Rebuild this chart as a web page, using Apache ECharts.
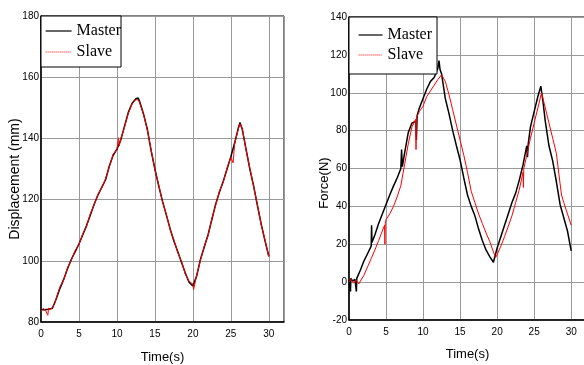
<!DOCTYPE html>
<html><head><meta charset="utf-8">
<script src="https://cdn.jsdelivr.net/npm/echarts@6/dist/echarts.min.js"></script>
<style>html,body{margin:0;padding:0;background:#fff}#c{width:584px;height:365px}</style>
</head><body><div id="c"></div>
<script>
// ---- Data ----
var seriesNames = ['Master', 'Slave'];
var xTickLabels = ['0', '5', '10', '15', '20', '25', '30'];
var dispTickLabels = ['80', '100', '120', '140', '160', '180'];
var forceTickLabels = ['-20', '0', '20', '40', '60', '80', '100', '120', '140'];

var dispMasterT = [0,0.5,1,1.5,2,2.5,3,3.5,4,4.5,5,5.5,6,6.5,7,7.5,8,8.5,9,9.5,10,10.5,11,11.5,12,12.5,12.8,13,13.5,14,14.5,15,15.5,16,16.5,17,17.5,18,18.5,19,19.5,20,20.5,21,21.5,22,22.5,23,23.5,24,24.5,25,25.5,26,26.2,26.5,27,27.5,28,28.5,29,29.5,30];
var dispMasterV = [84,84,84.2,84.5,87.5,91,94,97.5,100.5,103,105.5,108.5,111.5,115,118.5,121.5,124,126.5,131,134.5,136.5,139.5,144,148.5,151.5,153,153.2,152,148,143,136,130,124.5,119.5,115,110.5,106.5,103,99.5,96,93,91.8,95,100.5,104.5,108.5,113.5,118.5,122.5,126,130,134,138.5,143.5,145.2,143,136.5,130,124.5,118,112,106.5,101.5];

var dispSlaveT = [0,0.3,0.6,0.9,1.0,1.2,1.5,1.8,2,2.5,3,3.5,4,4.5,5,5.5,6,6.5,7,7.5,8,8.5,9,9.5,10,10.2,10.3,10.5,11,11.5,12,12.5,12.8,13,13.5,14,14.5,15,15.5,16,16.5,17,17.5,18,18.5,19,19.5,20,20.1,20.5,21,21.5,22,22.5,23,23.5,24,24.5,25,25.3,25.5,26,26.2,26.5,27,27.5,28,28.5,29,29.5,30];
var dispSlaveV = [83.5,84.5,83.8,82.2,84.6,83.9,84.8,86,87.8,91.5,93.8,97.8,100.2,103.4,105.3,108.8,111.3,115.4,118.3,121.8,123.8,126.8,130.7,134.8,136.3,140.2,137.5,139.8,143.7,148.2,151.3,152.7,152.6,151.6,147.8,142.8,136.3,129.7,124.8,119.2,115.3,110.2,106.8,102.7,99.8,95.7,93.3,92.4,90.6,95.4,100.2,104.8,108.2,113.8,118.2,122.8,125.7,130.3,133.7,132,138.2,143.2,144.8,143.3,136.2,130.3,124.2,118.3,111.7,106.8,101.3];

var forceMasterT = [0,0.2,0.25,0.5,0.8,1.0,1.05,1.5,2,2.5,3,3.05,3.1,3.5,4,4.5,5,5.5,6,6.5,7,7.1,7.2,7.5,8,8.5,9,9.1,9.2,9.5,10,10.5,11,11.5,12,12.15,12.3,12.5,13,13.5,14,14.5,15,15.5,16,16.5,17,17.5,18,18.5,19,19.5,20,20.5,21,21.5,22,22.5,23,23.5,24,24.1,24.2,24.5,25,25.5,25.9,26.2,26.5,27,27.5,28,28.5,29,29.5,30];
var forceMasterV = [1,-5,2,0.5,1.5,-5,2,6,11,15,19,30,21,25,31,36,41,46,50.7,55,60,70,61,68,79,84,85,75,88,92,97,102,106,108,113,117,112,110,97,89,80,72,64.5,55,46,40,35,28,22,17,13.5,10.5,18,24,30,36,42,47,54,62,72,66,73,82,90,98,103.5,95,85,72,64,53,41,34,27,16.5];

var forceSlaveT = [0,0.3,0.6,1,1.3,1.5,2,2.5,3,3.5,4,4.5,4.8,4.85,4.9,5,5.5,6,6.5,7,7.5,8,8.5,9,9.05,9.1,9.5,10,10.5,11,11.5,12,12.5,13,13.5,14,14.5,15,15.5,16,16.5,17,17.5,18,18.5,19,19.5,19.8,20,20.5,21,21.5,22,22.5,23,23.5,23.55,23.6,24,24.5,25,25.5,26,26.5,27,27.5,28,28.5,28.7,29,29.5,30];
var forceSlaveV = [0,1.5,-0.5,1,-1,0,3.5,8,12.5,17,22,27,30,20,31,33,36,40,45,51,62,73,82,86,70,87,90,93,98,101,104,107,109.5,106,99,91,83,75,67,58,48,42,36,31,26,21.5,16,13,14.5,19,24,29.5,35,42,49,58,50,60,67,76,84,92,100,92,84,76,68,52,46,42,36,30];

function zip(t, v) { return t.map(function (x, i) { return [x, v[i]]; }); }

var tickFont = { fontFamily: '"Liberation Sans Narrow", "Liberation Sans", Arial, sans-serif', fontSize: 10, color: '#000' };
var legendFont = { fontFamily: '"Liberation Serif", "Times New Roman", serif', fontSize: 16, color: '#000' };

function xAxisDef(gi, gap) {
  return {
    type: 'value', gridIndex: gi, min: 0, max: 32, interval: 5,
    name: 'Time(s)', nameLocation: 'middle', nameGap: gap,
    nameTextStyle: { fontFamily: '"Liberation Sans", Arial, sans-serif', fontSize: 13, color: '#000' },
    axisLine: { show: true, onZero: false, lineStyle: { color: '#000', width: 1.5 } },
    axisTick: { show: false },
    axisLabel: Object.assign({ margin: 7, formatter: function (v) { return xTickLabels.indexOf(String(v)) >= 0 ? String(v) : ''; } }, tickFont),
    splitLine: { show: true, lineStyle: { color: '#9a9a9a', width: 1 } }
  };
}
function yAxisDef(gi, min, max, labels) {
  return {
    type: 'value', gridIndex: gi, min: min, max: max, interval: 20,
    axisLine: { show: true, onZero: false, lineStyle: { color: '#000', width: 1.5 } },
    axisTick: { show: false },
    axisLabel: Object.assign({ margin: 2, formatter: function (v) { return labels.indexOf(String(v)) >= 0 ? String(v) : ''; } }, tickFont),
    splitLine: { show: true, lineStyle: { color: '#9a9a9a', width: 1 } }
  };
}

function legendDef(left, top, padding, gap, iw) {
  return {
    orient: 'vertical', left: left, top: top, padding: padding, itemGap: gap,
    itemWidth: iw, itemHeight: 14, backgroundColor: '#fff', borderColor: '#000', borderWidth: 1,
    textStyle: legendFont, selectedMode: false,
    itemStyle: { opacity: 0 },
    data: [
      { name: seriesNames[0], itemStyle: { opacity: 0 }, lineStyle: { type: 'solid', color: '#000', width: 1.2 } },
      { name: seriesNames[1], itemStyle: { opacity: 0 }, lineStyle: { type: 'dotted', color: '#ff0000', width: 1 } }
    ]
  };
}

var chart = echarts.init(document.getElementById('c'), null, { renderer: 'canvas' });
chart.setOption({
  backgroundColor: '#fff',
  animation: false,
  grid: [
    { left: 41, top: 16, width: 243, height: 306, show: true, borderColor: '#000', borderWidth: 1, backgroundColor: 'transparent', containLabel: false, outerBoundsMode: 'none' },
    { left: 349, top: 17, width: 237, height: 303, show: true, borderColor: '#000', borderWidth: 1, backgroundColor: 'transparent', containLabel: false, outerBoundsMode: 'none' }
  ],
  xAxis: [xAxisDef(0, 29), xAxisDef(1, 28)],
  yAxis: [yAxisDef(0, 80, 180, dispTickLabels), yAxisDef(1, -20, 140, forceTickLabels)],
  legend: [
    legendDef(41, 16, [7, 0, 7, 4], 5, 26),
    legendDef(349, 17, [10, 5, 11, 9], 4, 24)
  ],
  graphic: [
    { type: 'text', x: 15, y: 179, rotation: Math.PI / 2, style: { text: 'Displacement (mm)', fontFamily: '"Liberation Sans", Arial, sans-serif', fontSize: 14, fill: '#000', textAlign: 'center', textVerticalAlign: 'middle' } },
    { type: 'text', x: 324, y: 183, rotation: Math.PI / 2, style: { text: 'Force(N)', fontFamily: '"Liberation Sans", Arial, sans-serif', fontSize: 13, fill: '#000', textAlign: 'center', textVerticalAlign: 'middle' } }
  ],
  series: [
    { name: seriesNames[0], type: 'line', xAxisIndex: 0, yAxisIndex: 0, symbol: 'none', data: zip(dispMasterT, dispMasterV), lineStyle: { color: '#000', width: 1.5 }, itemStyle: { color: '#000' } },
    { name: seriesNames[1], type: 'line', xAxisIndex: 0, yAxisIndex: 0, symbol: 'none', data: zip(dispSlaveT, dispSlaveV), lineStyle: { color: '#ff0000', width: 1 }, itemStyle: { color: '#ff0000' } },
    { name: seriesNames[0], type: 'line', xAxisIndex: 1, yAxisIndex: 1, symbol: 'none', data: zip(forceMasterT, forceMasterV), lineStyle: { color: '#000', width: 1.5 }, itemStyle: { color: '#000' } },
    { name: seriesNames[1], type: 'line', xAxisIndex: 1, yAxisIndex: 1, symbol: 'none', data: zip(forceSlaveT, forceSlaveV), lineStyle: { color: '#ff0000', width: 1 }, itemStyle: { color: '#ff0000' } }
  ]
});
</script></body></html>
